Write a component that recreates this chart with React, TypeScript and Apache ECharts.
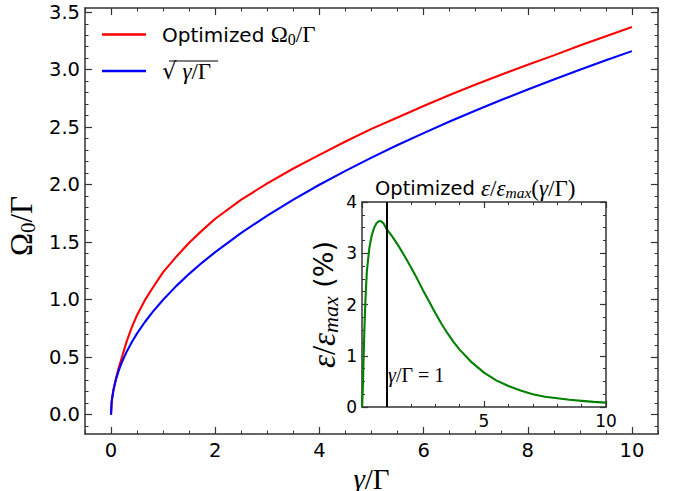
import React, { useEffect, useRef } from 'react';
import * as echarts from 'echarts';

// ---- Data ----
const ratioX = [0, 0.01, 0.02, 0.05, 0.1, 0.15, 0.2, 0.3, 0.4, 0.5, 0.65, 0.8, 1, 1.25, 1.5, 1.75, 2, 2.5, 3, 3.5, 4, 4.5, 5, 5.5, 6, 6.5, 7, 7.5, 8, 8.5, 9, 9.5, 10];
const optimizedOmega = [0, 0.1, 0.141, 0.224, 0.326, 0.412, 0.487, 0.638, 0.762, 0.867, 0.996, 1.104, 1.24, 1.373, 1.495, 1.603, 1.704, 1.871, 2.012, 2.141, 2.26, 2.376, 2.486, 2.585, 2.684, 2.78, 2.871, 2.959, 3.043, 3.125, 3.21, 3.292, 3.372];
const sqrtRatio = [0, 0.1, 0.141, 0.224, 0.316, 0.387, 0.447, 0.548, 0.632, 0.707, 0.806, 0.894, 1.0, 1.118, 1.225, 1.323, 1.414, 1.581, 1.732, 1.871, 2.0, 2.121, 2.236, 2.345, 2.449, 2.55, 2.646, 2.739, 2.828, 2.915, 3.0, 3.082, 3.162];

const effX = [0, 0.03, 0.06, 0.1, 0.15, 0.2, 0.3, 0.4, 0.5, 0.6, 0.7, 0.8, 0.9, 1.0, 1.25, 1.5, 1.75, 2, 2.25, 2.5, 2.75, 3, 3.25, 3.5, 3.75, 4, 4.5, 5, 5.5, 6, 6.5, 7, 7.5, 8, 8.5, 9, 9.5, 10];
const efficiency = [0, 0.3, 0.85, 1.55, 2.2, 2.65, 3.1, 3.35, 3.5, 3.59, 3.63, 3.62, 3.57, 3.48, 3.32, 3.14, 2.94, 2.73, 2.51, 2.28, 2.06, 1.84, 1.63, 1.44, 1.27, 1.12, 0.87, 0.67, 0.52, 0.41, 0.32, 0.25, 0.2, 0.17, 0.14, 0.12, 0.1, 0.085];

const mainXMajor = [0, 2, 4, 6, 8, 10];
const mainYMajor = [0, 0.5, 1, 1.5, 2, 2.5, 3, 3.5];
const mainXMinor = [-0.5, 0.5, 1, 1.5, 2.5, 3, 3.5, 4.5, 5, 5.5, 6.5, 7, 7.5, 8.5, 9, 9.5, 10.5];
const mainYMinor = [-0.1, 0.1, 0.2, 0.3, 0.4, 0.6, 0.7, 0.8, 0.9, 1.1, 1.2, 1.3, 1.4, 1.6, 1.7, 1.8, 1.9, 2.1, 2.2, 2.3, 2.4, 2.6, 2.7, 2.8, 2.9, 3.1, 3.2, 3.3, 3.4];
const insetXMajor = [0, 5, 10];
const insetXLabels = [5, 10];
const insetXMinor = [1, 2, 3, 4, 6, 7, 8, 9];
const insetYMajor = [0, 1, 2, 3, 4];
const insetYMinor = [0.25, 0.5, 0.75, 1.25, 1.5, 1.75, 2.25, 2.5, 2.75, 3.25, 3.5, 3.75];
const markerRatio = 1;

const SANS = 'DejaVu Sans';
const SERIF = 'Liberation Serif';
const AX = '#333';

export default function App() {
  const ref = useRef<HTMLDivElement>(null);
  useEffect(() => {
    if (!ref.current) return;
    const chart = echarts.init(ref.current, undefined, { renderer: 'svg' });

    const tickFont = { color: '#000', fontFamily: SANS, fontSize: 19.5, fontWeight: 'normal' };

    const mathRich = (F: number, lh: number, f: number, lhs: number, A: number) => ({
      a: { fontFamily: SANS, fontSize: A, lineHeight: lh, color: '#000', fontWeight: 'normal' },
      r: { fontFamily: SANS, fontSize: F, lineHeight: lh, color: '#000', fontWeight: 'normal' },
      m: { fontFamily: SERIF, fontSize: F, lineHeight: lh, color: '#000', fontWeight: 'normal' },
      mi: { fontFamily: SERIF, fontSize: F, fontStyle: 'italic', lineHeight: lh, color: '#000', fontWeight: 'normal' },
      s: { fontFamily: SERIF, fontSize: f, lineHeight: lhs, verticalAlign: 'bottom', color: '#000', fontWeight: 'normal' },
      si: { fontFamily: SERIF, fontSize: f, fontStyle: 'italic', lineHeight: lhs, verticalAlign: 'bottom', color: '#000', fontWeight: 'normal' },
      g: { width: 11, fontSize: 10, lineHeight: lh },
    });

    // Three stacked axes per side: frame line (+labels/name), major ticks, minor ticks.
    // Ticks point inward: outward ticks drawn from an axis shifted inward by the tick length.
    const side = (
      gridIndex: number, position: string, range: any, major: number[], minor: number[],
      majorLen: number, minorLen: number, extra: any = {}
    ) => [
      {
        type: 'value', gridIndex, position, ...range,
        axisLine: { show: true, onZero: false, lineStyle: { color: AX, width: 1.5 } },
        axisTick: { show: false }, splitLine: { show: false },
        axisLabel: { show: false },
        ...extra,
      },
      {
        type: 'value', gridIndex, position, ...range, offset: -majorLen,
        axisLine: { show: false, onZero: false },
        axisTick: { show: true, inside: false, length: majorLen, customValues: major, lineStyle: { color: AX, width: 1.2 } },
        splitLine: { show: false }, axisLabel: { show: false },
      },
      {
        type: 'value', gridIndex, position, ...range, offset: -minorLen,
        axisLine: { show: false, onZero: false },
        axisTick: { show: true, inside: false, length: minorLen, customValues: minor, lineStyle: { color: AX, width: 1 } },
        splitLine: { show: false }, axisLabel: { show: false },
      },
    ];

    const mainXRange = { min: -0.5, max: 10.5 };
    const mainYRange = { min: -0.168, max: 3.537 };
    const insetXRange = { min: 0, max: 10 };
    const insetYRange = { min: 0, max: 4 };

    const xAxes = [
      ...side(0, 'bottom', mainXRange, mainXMajor, mainXMinor, 7, 3.5, {
        axisLabel: { ...tickFont, customValues: mainXMajor, margin: 6, hideOverlap: false, formatter: (v: number) => String(v) },
        name: '{mi|γ}{m|/Γ}', nameLocation: 'middle', nameGap: 19,
        nameTextStyle: { rich: mathRich(29, 28, 20, 14, 26) },
      }),
      ...side(0, 'top', mainXRange, mainXMajor, mainXMinor, 7, 3.5),
      ...side(1, 'bottom', insetXRange, insetXMajor, insetXMinor, 6, 3, {
        axisLabel: { ...tickFont, fontSize: 17, customValues: insetXLabels, margin: 5, hideOverlap: false, formatter: (v: number) => String(v) },
      }),
      ...side(1, 'top', insetXRange, insetXMajor, insetXMinor, 6, 3),
    ];
    const yAxes = [
      ...side(0, 'left', mainYRange, mainYMajor, mainYMinor, 7, 3.5, {
        axisLabel: { ...tickFont, customValues: mainYMajor, margin: 5, hideOverlap: false, formatter: (v: number) => v.toFixed(1) },
        name: '{m|Ω}{s|0}{m|/Γ}', nameLocation: 'middle', nameRotate: 90, nameGap: 41,
        nameTextStyle: { padding: [0, 10, 0, 0], rich: mathRich(31, 34, 21, 17, 28) },
      }),
      ...side(0, 'right', mainYRange, mainYMajor, mainYMinor, 7, 3.5),
      ...side(1, 'left', insetYRange, insetYMajor, insetYMinor, 6, 3, {
        axisLabel: { ...tickFont, fontSize: 17, customValues: insetYMajor, margin: 5, hideOverlap: false, formatter: (v: number) => String(v) },
        name: '{mi|ε}{m|/}{mi|ε}{si|max}{a| (%)}', nameLocation: 'middle', nameRotate: 90, nameGap: 21,
        nameTextStyle: { rich: mathRich(33, 35, 22, 18, 27) },
      }),
      ...side(1, 'right', insetYRange, insetYMajor, insetYMinor, 6, 3),
    ];

    const option: any = {
      animation: false,
      backgroundColor: '#fff',
      grid: [
        { left: 85, top: 8, width: 573, height: 426, containLabel: false, outerBoundsMode: 'none' },
        { left: 362, top: 202, width: 244, height: 205, containLabel: false, outerBoundsMode: 'none' },
      ],
      title: {
        text: '{a|Optimized }{mi|ε}{m|/}{mi|ε}{si|max}{m|(}{mi|γ}{m|/Γ)}',
        left: 375,
        top: 176,
        padding: 0,
        textStyle: { fontWeight: 'normal', rich: mathRich(23, 24, 15.5, 12, 19.5) },
      },
      legend: {
        orient: 'vertical',
        left: 102,
        top: 23,
        padding: 0,
        itemGap: 12,
        itemWidth: 44,
        itemHeight: 2.5,
        icon: 'rect',
        data: ['Optimized Ω0/Γ', 'sqrt(γ/Γ)'],
        formatter: (name: string) =>
          name === 'Optimized Ω0/Γ'
            ? '{g| }{a|Optimized }{m|Ω}{s|0}{m|/Γ}'
            : '{g| }{r|√}{mi| γ}{m|/Γ}',
        textStyle: { rich: mathRich(23, 26, 16, 13, 20) },
      },
      xAxis: xAxes,
      yAxis: yAxes,
      series: [
        {
          name: 'Optimized Ω0/Γ', type: 'line', xAxisIndex: 0, yAxisIndex: 0,
          data: ratioX.map((x, i) => [x, optimizedOmega[i]]),
          showSymbol: false, symbol: 'none', smooth: false,
          lineStyle: { color: '#ff0000', width: 2.1 }, itemStyle: { color: '#ff0000' },
        },
        {
          name: 'sqrt(γ/Γ)', type: 'line', xAxisIndex: 0, yAxisIndex: 0,
          data: ratioX.map((x, i) => [x, sqrtRatio[i]]),
          showSymbol: false, symbol: 'none', smooth: false,
          lineStyle: { color: '#0000ff', width: 2.1 }, itemStyle: { color: '#0000ff' },
        },
        {
          name: 'efficiency', type: 'line', xAxisIndex: 6, yAxisIndex: 6,
          data: effX.map((x, i) => [x, efficiency[i]]),
          showSymbol: false, symbol: 'none', smooth: false,
          lineStyle: { color: '#008000', width: 2.1 }, itemStyle: { color: '#008000' },
          markLine: {
            silent: true, symbol: ['none', 'none'], label: { show: false },
            lineStyle: { color: '#000', width: 2, type: 'solid' },
            data: [{ xAxis: markerRatio }],
          },
        },
      ],
      graphic: [
        { type: 'line', shape: { x1: 169, y1: 61, x2: 218, y2: 61 }, style: { stroke: '#000', lineWidth: 1.2 }, silent: true },
        {
          type: 'text', x: 388, y: 375, silent: true,
          style: {
            text: '{mi|γ}{m|/Γ = 1}', verticalAlign: 'middle', align: 'left',
            rich: mathRich(20, 22, 14, 11, 18),
          },
        },
      ],
    };
    chart.setOption(option);
    return () => chart.dispose();
  }, []);
  return <div ref={ref} style={{ position: 'fixed', left: 0, top: 0, width: 674, height: 491 }} />;
}
